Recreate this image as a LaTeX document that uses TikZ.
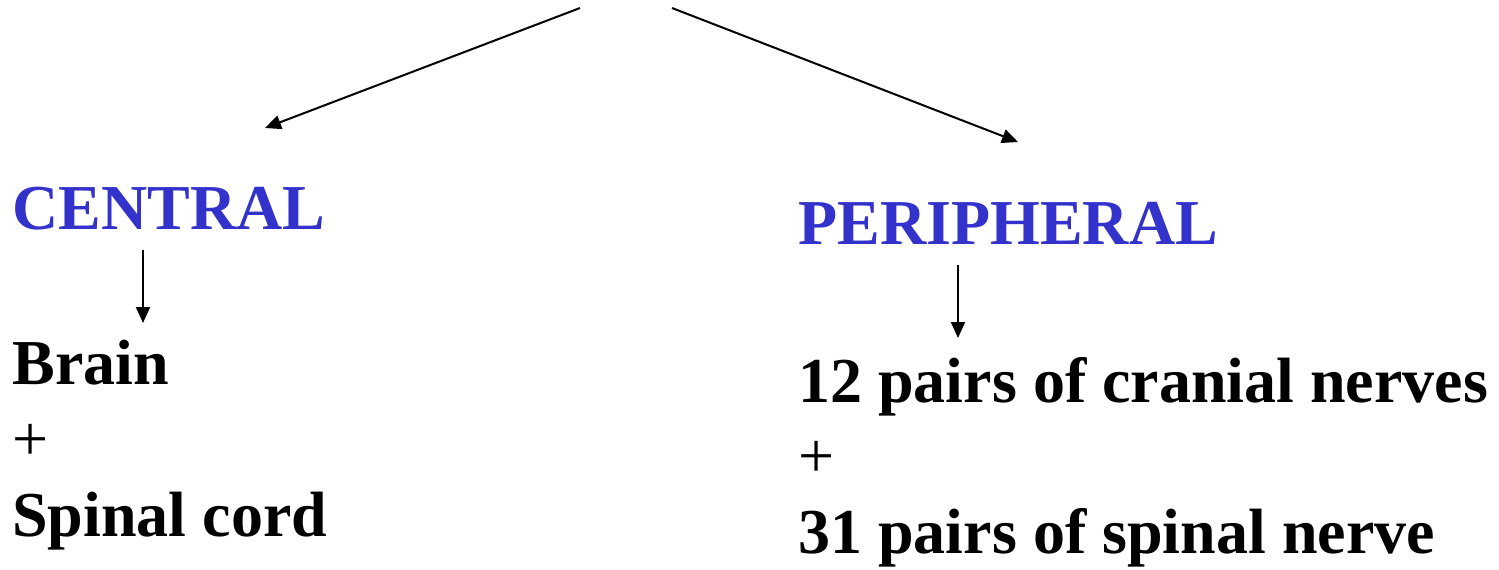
\documentclass[tikz,border=0pt]{standalone}
\usepackage{fontspec}
\setmainfont{Liberation Serif}
\usepackage{tikz}
\usetikzlibrary{arrows.meta,positioning}
\definecolor{divblue}{RGB}{51,51,204}
\tikzstyle{arrow}=[-{Triangle[length=8pt,width=7pt]},line width=1pt,draw=black]
\tikzstyle{heading}=[anchor=base west,inner sep=0pt,text=divblue,font=\fontsize{32}{38}\selectfont\bfseries]
\tikzstyle{item}=[anchor=base west,inner sep=0pt,text=black,font=\fontsize{32}{38}\selectfont\bfseries]
\tikzstyle{plus}=[anchor=base west,inner sep=0pt,text=black,font=\fontsize{32}{38}\selectfont]

\begin{document}
\begin{tikzpicture}[x=0.5pt,y=-0.5pt]
      \useasboundingbox (0,0) rectangle (1499,569);

      \node[heading] (central) at (12,229) {CENTRAL};
      \node[heading] (periph) at (798,244) {PERIPHERAL};
      \node[item] (brain) at (12,384) {Brain};
      \node[plus] (plusl) at (12,460) {+};
      \node[item] (cord) at (12,536) {Spinal cord};
      \node[item] (cranial) at (798,402) {12 pairs of cranial nerves};
      \node[plus] (plusr) at (798,477) {+};
      \node[item] (spinal) at (798,553) {31 pairs of spinal nerve};

      \coordinate (top-l) at (580,8);
      \coordinate (top-r) at (672,8);
      \coordinate (to-central) at (265,128);
      \coordinate (to-periph) at (1018,142);
      \coordinate (c-from) at (143,250);
      \coordinate (c-to) at (143,323);
      \coordinate (p-from) at (958,265);
      \coordinate (p-to) at (958,338);

      \draw[arrow] (top-l)--(to-central);
      \draw[arrow] (top-r)--(to-periph);
      \draw[arrow] (c-from)--(c-to);
      \draw[arrow] (p-from)--(p-to);
    \end{tikzpicture}
\end{document}
